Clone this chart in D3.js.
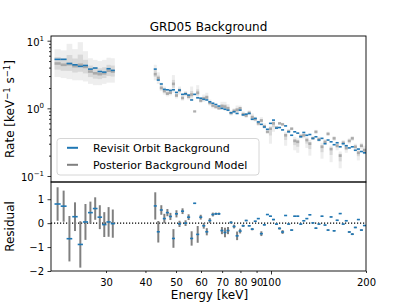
<!DOCTYPE html>
<html lang="en">
<head>
<meta charset="utf-8">
<title>GRD05 Background</title>
<script src="https://d3js.org/d3.v7.min.js"></script>
<style>
body{ margin:0; background:#fff; }
svg text{ font-family:"DejaVu Sans", sans-serif; fill:#000; }
.axis path{ display:none; }
.axis line{ stroke:#000; stroke-width:0.8; }
.axis text{ font-size:10px; font-family:"DejaVu Sans", sans-serif; }
</style>
</head>
<body>
<div id="chart"></div>
<script>
// bin edges (keV), two energy ranges
var edgesLow = [20.6, 21.55, 22.5, 23.45, 24.4, 25.35, 26.3, 27.25, 28.2, 29.15, 30.1, 31.05, 32.0];
var edgesHigh = [42.5, 43.45, 44.42, 45.41, 46.43, 47.47, 48.53, 49.61, 50.72, 51.86, 53.02,
  54.2, 55.42, 56.66, 57.92, 59.22, 60.54, 61.9, 63.28, 64.7, 66.14, 67.62, 69.13, 70.68, 72.26,
  73.88, 75.53, 77.22, 78.95, 80.71, 82.52, 84.36, 86.25, 88.18, 90.15, 92.17, 94.23, 96.34, 98.49,
  100.7, 102.95, 105.25, 107.61, 110.02, 112.48, 114.99, 117.57, 120.2, 122.89, 125.64, 128.45,
  131.32, 134.26, 137.26, 140.33, 143.47, 146.69, 149.97, 153.32, 156.75, 160.26, 163.85, 167.51,
  171.26, 175.1, 179.01, 183.02, 187.11, 191.3, 195.58, 199.96];

// revisit orbit background rate per bin
var revisit = [5.3, 5.3, 4.6, 4.4, 4.17, 4.3, 3.8, 3.94, 3.5, 3.43, 3.85, 3.64,
  3.8, 2.62, 2.29, 1.91, 1.88, 1.84, 1.88, 1.72, 1.86, 1.61,
  1.64, 1.57, 1.33, 1.61, 1.43, 1.41, 1.36, 1.33, 1.25, 1.19,
  1.14, 1.08, 1.00, 0.97, 0.94, 0.86, 0.89, 0.84, 0.94, 0.80,
  0.82, 0.84, 0.69, 0.71, 0.63, 0.58, 0.53, 0.49, 0.60, 0.67,
  0.51, 0.52, 0.48, 0.55, 0.45, 0.40, 0.45, 0.43, 0.38, 0.44,
  0.40, 0.41, 0.36, 0.38, 0.34, 0.36, 0.30, 0.34, 0.32, 0.29,
  0.31, 0.27, 0.30, 0.28, 0.26, 0.27, 0.24, 0.25, 0.23, 0.22];

// posterior background model: median and spread
var postMed = [4.6, 4.4, 4.5, 4.2, 4.4, 4.1, 3.5, 3.3, 3.2, 3.3, 3.6, 3.5,
  3.2, 2.8, 2.0, 1.8, 1.65, 1.7, 2.3, 1.55, 1.85, 1.42,
  1.64, 1.48, 1.6, 0.9, 1.7, 1.3, 1.4, 1.45, 1.2, 1.1,
  1.05, 1.0, 1.08, 1.06, 1.0, 0.85, 0.92, 0.95, 1.0, 0.82,
  0.78, 0.86, 0.74, 0.69, 0.6, 0.66, 0.54, 0.45, 0.5, 0.6,
  0.52, 0.6, 0.58, 0.4, 0.46, 0.5, 0.33, 0.32, 0.39, 0.4,
  0.34, 0.3, 0.36, 0.45, 0.35, 0.27, 0.32, 0.42, 0.25, 0.36,
  0.28, 0.2, 0.31, 0.26, 0.33, 0.36, 0.27, 0.22, 0.28, 0.24];
var postLo = [2.9, 2.8, 2.7, 2.6, 2.6, 2.5, 2.3, 2.2, 2.2, 2.3, 2.4, 2.4,
  2.6, 2.3, 1.8, 1.6, 1.5, 1.55, 1.7, 1.4, 1.6, 1.3,
  1.5, 1.35, 1.3, 0.88, 1.4, 1.2, 1.25, 1.3, 1.1, 1.0,
  0.98, 0.95, 0.95, 0.92, 0.9, 0.78, 0.84, 0.82, 0.9, 0.76,
  0.72, 0.8, 0.66, 0.64, 0.55, 0.6, 0.5, 0.42, 0.3, 0.45,
  0.49, 0.57, 0.55, 0.28, 0.43, 0.47, 0.24, 0.22, 0.36, 0.36,
  0.26, 0.2, 0.34, 0.42, 0.32, 0.18, 0.29, 0.39, 0.16, 0.33,
  0.24, 0.13, 0.28, 0.22, 0.3, 0.33, 0.24, 0.17, 0.25, 0.21];
var postHi = [7.5, 7.2, 9.0, 7.5, 9.5, 7.0, 5.5, 5.2, 5.0, 5.2, 5.6, 5.5,
  4.4, 3.4, 2.4, 2.1, 1.9, 1.95, 3.1, 1.75, 2.1, 1.6,
  1.8, 1.65, 2.1, 0.93, 2.2, 1.45, 1.6, 1.7, 1.35, 1.2,
  1.12, 1.06, 1.25, 1.25, 1.15, 0.93, 1.0, 1.1, 1.1, 0.9,
  0.85, 0.93, 0.84, 0.75, 0.66, 0.74, 0.6, 0.48, 0.55, 0.65,
  0.55, 0.63, 0.61, 0.45, 0.49, 0.53, 0.38, 0.36, 0.42, 0.43,
  0.38, 0.34, 0.39, 0.48, 0.38, 0.31, 0.35, 0.45, 0.28, 0.39,
  0.31, 0.23, 0.34, 0.29, 0.36, 0.39, 0.3, 0.25, 0.31, 0.28];

// residuals and their errors
var resid = [0.80, 0.71, -0.65, 0.27, -0.89, 0.05, 0.44, 0.61, 0.25, -0.06, 0.05, -0.02,
  0.72, -0.36, 0.55, 0.19, 0.44, 0.28, -0.64, 0.39, -0.03, 0.5,
  0.0, 0.25, -0.64, 0.83, -0.47, 0.25, -0.11, -0.36, 0.11, 0.36,
  0.39, 0.39, -0.31, -0.39, -0.31, 0.03, -0.14, -0.53, -0.33, -0.11,
  0.11, -0.11, -0.25, 0.08, 0.19, -0.44, -0.07, 0.36, 0.29, 0.15,
  -0.04, -0.22, -0.37, 0.32, -0.04, -0.29, 0.29, 0.29, -0.04, 0.1,
  0.19, 0.35, 0.01, -0.21, -0.04, 0.29, -0.08, -0.29, 0.26, -0.32,
  0.12, 0.4, -0.04, 0.1, -0.37, -0.46, -0.18, 0.15, -0.29, -0.1];
var residErr = [0.70, 0.65, 0.95, 0.60, 0.97, 0.75, 0.46, 0.47, 0.50, 0.52, 0.62, 0.59,
  0.57, 0.45, 0.2, 0.2, 0.15, 0.15, 0.39, 0.15, 0.13, 0.12,
  0.12, 0.12, 0.3, 0.02, 0.35, 0.1, 0.12, 0.15, 0.1, 0.08,
  0.05, 0.05, 0.15, 0.2, 0.15, 0.05, 0.08, 0.18, 0.1, 0.05,
  0.03, 0.03, 0.05, 0.02, 0.02, 0.1, 0.03, 0.02, 0.02, 0.03,
  0.03, 0.05, 0.08, 0.02, 0.02, 0.03, 0.02, 0.02, 0.02, 0.02,
  0.02, 0.02, 0.02, 0.03, 0.02, 0.02, 0.02, 0.03, 0.02, 0.03,
  0.02, 0.02, 0.02, 0.02, 0.04, 0.04, 0.03, 0.02, 0.03, 0.02];

// tick values
var energyMajor = [100];
var energyMinor = [30, 40, 50, 60, 70, 80, 90, 200];
var rateMajor = [0.1, 1, 10];
var rateMinor = [0.2, 0.3, 0.4, 0.5, 0.6, 0.7, 0.8, 0.9, 2, 3, 4, 5, 6, 7, 8, 9];
var residTicks = [-2, -1, 0, 1];

var W = 407, H = 305;
var left = 51, right = 366, top1 = 36, mid = 182, bottom = 271;
var blue = "#1f77b4";

var x = d3.scaleLog().domain([20.08, 200]).range([left, right]);
var y = d3.scaleLog().domain([0.0815, 11.73]).range([mid, top1]);
var yr = d3.scaleLinear().domain([-2, 1.72]).range([bottom, mid]);

var bins = [];
[edgesLow, edgesHigh].forEach(function(e){
  for (var i = 0; i < e.length - 1; i++) bins.push({lo: e[i], hi: e[i+1]});
});
bins.forEach(function(b, i){
  b.rate = revisit[i]; b.med = postMed[i]; b.pLo = postLo[i]; b.pHi = postHi[i];
  b.r = resid[i]; b.err = residErr[i];
});

var svg = d3.select("#chart").append("svg")
  .attr("width", W).attr("height", H);

svg.append("clipPath").attr("id", "clipTop")
  .append("rect").attr("x", left).attr("y", top1).attr("width", right-left).attr("height", mid-top1);

// ---- top panel: posterior samples (grey) ----
var post = svg.append("g").attr("clip-path", "url(#clipTop)");
post.selectAll("rect.outer").data(bins).enter().append("rect")
  .attr("class", "outer")
  .attr("x", function(d){ return x(d.lo); })
  .attr("width", function(d){ return x(d.hi) - x(d.lo); })
  .attr("y", function(d){ return y(d.pHi); })
  .attr("height", function(d){ return y(d.pLo) - y(d.pHi); })
  .attr("fill", "#777").attr("fill-opacity", 0.12);
post.selectAll("rect.inner").data(bins).enter().append("rect")
  .attr("class", "inner")
  .attr("x", function(d){ return x(d.lo); })
  .attr("width", function(d){ return x(d.hi) - x(d.lo); })
  .attr("y", function(d){ return y(d.med) - 0.45*(y(d.med) - y(d.pHi)); })
  .attr("height", function(d){ return 0.45*(y(d.pLo) - y(d.pHi)); })
  .attr("fill", "#777").attr("fill-opacity", 0.18);
post.selectAll("rect.core").data(bins).enter().append("rect")
  .attr("class", "core")
  .attr("x", function(d){ return x(d.lo); })
  .attr("width", function(d){ return x(d.hi) - x(d.lo); })
  .attr("y", function(d){ return y(d.med) - 1.3; })
  .attr("height", 2.6)
  .attr("fill", "#555").attr("fill-opacity", 0.35);

// revisit orbit background
svg.append("g").selectAll("line").data(bins).enter().append("line")
  .attr("x1", function(d){ return x(d.lo); })
  .attr("x2", function(d){ return x(d.hi); })
  .attr("y1", function(d){ return y(d.rate); })
  .attr("y2", function(d){ return y(d.rate); })
  .attr("stroke", blue).attr("stroke-width", 1.6);

// ---- bottom panel: residuals ----
svg.append("line")
  .attr("x1", left).attr("x2", right).attr("y1", yr(0)).attr("y2", yr(0))
  .attr("stroke", "#000").attr("stroke-width", 1.1).attr("stroke-dasharray", "1.2,1.8");

svg.append("g").selectAll("line").data(bins).enter().append("line")
  .attr("x1", function(d){ return (x(d.lo) + x(d.hi))/2; })
  .attr("x2", function(d){ return (x(d.lo) + x(d.hi))/2; })
  .attr("y1", function(d){ return yr(d.r - d.err); })
  .attr("y2", function(d){ return yr(d.r + d.err); })
  .attr("stroke", "#808080").attr("stroke-width", 2);

svg.append("g").selectAll("line").data(bins).enter().append("line")
  .attr("x1", function(d){ return x(d.lo); })
  .attr("x2", function(d){ return x(d.hi); })
  .attr("y1", function(d){ return yr(d.r); })
  .attr("y2", function(d){ return yr(d.r); })
  .attr("stroke", blue).attr("stroke-width", 1.6);

// ---- axes ----
var yMaj = svg.append("g").attr("class", "axis")
  .attr("transform", "translate(" + left + ",0)")
  .call(d3.axisLeft(y).tickValues(rateMajor).tickSize(3.5).tickFormat(""));
yMaj.selectAll(".tick").each(function(d){
  var t = d3.select(this).append("text")
    .attr("x", -7).attr("y", 4.3).attr("text-anchor", "end").style("font-size", "10px");
  t.append("tspan").text("10");
  t.append("tspan").attr("dy", -5).style("font-size", "7px").text(String(Math.round(Math.log10(d))).replace("-", "\u2212"));
});
svg.append("g").attr("class", "axis")
  .attr("transform", "translate(" + left + ",0)")
  .call(d3.axisLeft(y).tickValues(rateMinor).tickSize(2).tickFormat(""));

svg.append("g").attr("class", "axis")
  .attr("transform", "translate(" + left + ",0)")
  .call(d3.axisLeft(yr).tickValues(residTicks).tickSize(3.5).tickPadding(3.5)
    .tickFormat(function(d){ return String(d).replace("-", "\u2212"); }));

svg.append("g").attr("class", "axis")
  .attr("transform", "translate(0," + bottom + ")")
  .call(d3.axisBottom(x).tickValues(energyMajor).tickSize(3.5).tickPadding(4).tickFormat(d3.format("d")));
svg.append("g").attr("class", "axis")
  .attr("transform", "translate(0," + bottom + ")")
  .call(d3.axisBottom(x).tickValues(energyMinor).tickSize(2).tickPadding(5.5).tickFormat(d3.format("d")));

// frames
svg.append("rect").attr("x", left).attr("y", top1).attr("width", right-left).attr("height", mid-top1)
  .attr("fill", "none").attr("stroke", "#000").attr("stroke-width", 0.9);
svg.append("rect").attr("x", left).attr("y", mid).attr("width", right-left).attr("height", bottom-mid)
  .attr("fill", "none").attr("stroke", "#000").attr("stroke-width", 0.9);

// ---- labels ----
svg.append("text").attr("x", (left+right)/2).attr("y", 31)
  .attr("text-anchor", "middle").style("font-size", "12px").text("GRD05 Background");
svg.append("text").attr("x", (left+right)/2 + 1).attr("y", 299)
  .attr("text-anchor", "middle").style("font-size", "12px").text("Energy [keV]");

var yl = svg.append("text").attr("transform", "translate(14," + ((top1+mid)/2) + ") rotate(-90)")
  .attr("text-anchor", "middle").style("font-size", "12px");
yl.append("tspan").text("Rate [keV");
yl.append("tspan").attr("dy", -4.5).style("font-size", "8.5px").text("\u22121");
yl.append("tspan").attr("dy", 4.5).text(" s");
yl.append("tspan").attr("dy", -4.5).style("font-size", "8.5px").text("\u22121");
yl.append("tspan").attr("dy", 4.5).text("]");

svg.append("text").attr("transform", "translate(14," + ((mid+bottom)/2) + ") rotate(-90)")
  .attr("text-anchor", "middle").style("font-size", "12px").text("Residual");

// legend
var leg = svg.append("g");
leg.append("rect").attr("x", 57).attr("y", 138.5).attr("width", 202).attr("height", 36.5)
  .attr("rx", 3).attr("fill", "#fff").attr("fill-opacity", 0.8)
  .attr("stroke", "#ccc").attr("stroke-width", 0.8);
var items = [{label: "Revisit Orbit Background", color: blue}, {label: "Posterior Background Model", color: "#808080"}];
items.forEach(function(it, i){
  var yy = 147.8 + i*17;
  leg.append("line").attr("x1", 67).attr("x2", 78).attr("y1", yy).attr("y2", yy)
    .attr("stroke", it.color).attr("stroke-width", 2);
  leg.append("text").attr("x", 93).attr("y", yy + 4).style("font-size", "11px").text(it.label);
});
</script>
</body>
</html>
